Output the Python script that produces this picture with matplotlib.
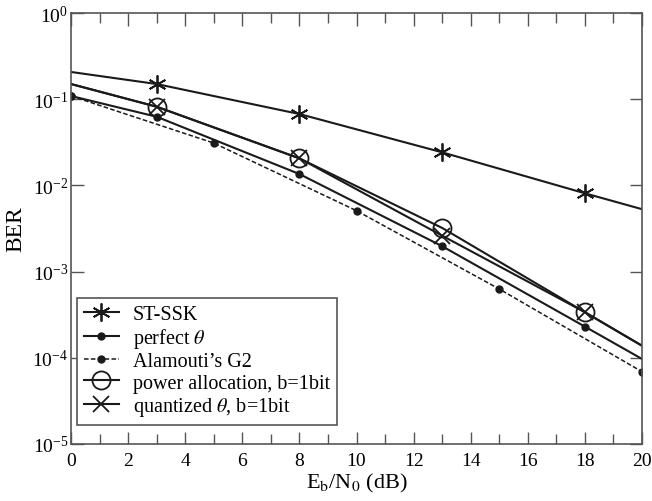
import matplotlib
matplotlib.use("Agg")
import matplotlib.pyplot as plt
from matplotlib.ticker import LogLocator, MultipleLocator, NullLocator

plt.rcParams['font.family'] = ['Liberation Serif', 'DejaVu Serif']
plt.rcParams['mathtext.fontset'] = 'stix'

# ST-SSK
x_st = [0, 3, 8, 13, 18, 20]
ber_st = [0.207, 0.150, 0.0673, 0.0242, 0.0081, 0.0053]
# perfect theta
x_pt = [0, 3, 8, 13, 18, 20]
ber_pt = [0.109, 0.0626, 0.01355, 0.00197, 2.3e-4, 9.7e-5]
# Alamouti G2
x_al = [0, 5, 10, 15, 20]
ber_al = [0.109, 0.031, 5.09e-3, 6.28e-4, 6.9e-5]
# power allocation b=1bit
x_pa = [0, 3, 8, 13, 18, 20]
ber_pa = [0.150, 0.0818, 0.0206, 0.00321, 3.38e-4, 1.38e-4]
# quantized theta b=1bit
x_qt = [0, 3, 8, 13, 18, 20]
ber_qt = [0.150, 0.0818, 0.0206, 0.00261, 3.38e-4, 1.38e-4]

xticks = list(range(0, 21, 2))

fig = plt.figure(figsize=(6.52, 5.02), dpi=100)
ax = fig.add_axes([71/652, 1-445/502, 571/652, 431/502])

lw = 1.5
c = '#1a1a1a'
ax.semilogy(x_st, ber_st, color=c, lw=lw, marker=(6, 2, 0), ms=13, mew=1.3,
            markevery=[1, 2, 3, 4], label='ST-SSK')
ax.semilogy(x_pt, ber_pt, color=c, lw=lw, marker='o', ms=5,
            markevery=[0, 1, 2, 3, 4], label=r'perfect $\theta$')
ax.semilogy(x_al, ber_al, color=c, lw=1.1, ls=(0, (3, 1.5)), marker='o', ms=5,
            label="Alamouti\u2019s G2")
ax.semilogy(x_pa, ber_pa, color=c, lw=lw, marker='o', ms=13, mfc='none', mew=1.3,
            markevery=[1, 2, 3, 4], label='power allocation, b=1bit')
ax.semilogy(x_qt, ber_qt, color=c, lw=lw, marker='x', ms=12, mew=1.3,
            markevery=[1, 2, 3, 4], label=r'quantized $\theta$, b=1bit')

ax.set_xlim(0, 20)
ax.set_ylim(1e-5, 1)
ax.set_xticks(xticks)
ax.xaxis.set_minor_locator(MultipleLocator(1))
ax.yaxis.set_major_locator(LogLocator(base=10, numticks=10))
ax.yaxis.set_minor_locator(NullLocator())
ax.tick_params(which='both', direction='in', top=True, right=True, labelsize=14,
               color='#555555')
ax.tick_params(axis='x', pad=6)
ax.tick_params(axis='y', pad=2)
ax.tick_params(which='major', length=9, width=1)
ax.tick_params(which='minor', length=7, width=1)
for s in ax.spines.values():
    s.set_color('#555555')
    s.set_linewidth(1.2)

ax.set_xlabel(r'E$_{\rm b}$/N$_0$ (dB)', fontsize=16, labelpad=1)
ax.set_ylabel('BER', fontsize=17, labelpad=4)

leg = ax.legend(loc='lower left', bbox_to_anchor=(0.01, 0.045), borderaxespad=0,
                fontsize=14.5, fancybox=False, framealpha=1, edgecolor='#555555',
                handlelength=1.75, handletextpad=0.7, labelspacing=0.1,
                borderpad=0.35)
leg.get_frame().set_linewidth(1.2)

fig.savefig('out.png', dpi=100)
